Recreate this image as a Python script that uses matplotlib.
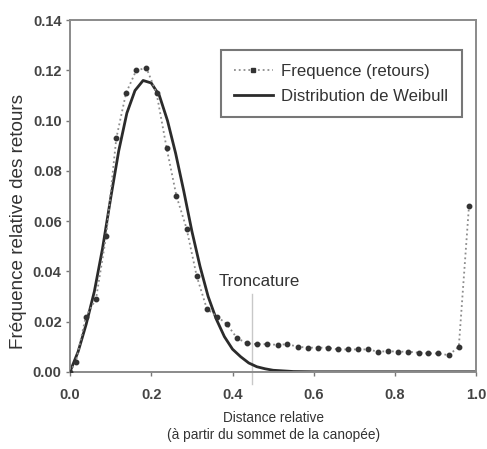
import matplotlib
matplotlib.use("Agg")
import matplotlib.pyplot as plt
from matplotlib.lines import Line2D

plt.rcParams['font.family'] = ['Liberation Sans', 'DejaVu Sans']

# relative height bins (from canopy top) and return frequencies
dist_obs = [0.0, 0.0145, 0.039, 0.064, 0.089, 0.114, 0.138, 0.163, 0.188, 0.213,
            0.238, 0.262, 0.287, 0.312, 0.337, 0.362, 0.386, 0.411, 0.436, 0.461,
            0.486, 0.511, 0.535, 0.560, 0.585, 0.610, 0.634, 0.659, 0.684, 0.709,
            0.734, 0.758, 0.783, 0.808, 0.833, 0.858, 0.882, 0.907, 0.932, 0.957,
            0.982]
freq_obs = [0.0, 0.004, 0.022, 0.029, 0.054, 0.093, 0.111, 0.120, 0.121, 0.111,
            0.089, 0.070, 0.057, 0.038, 0.025, 0.022, 0.019, 0.0134, 0.0113, 0.011,
            0.011, 0.0107, 0.0110, 0.0100, 0.0096, 0.0096, 0.0096, 0.0089, 0.0089, 0.0089,
            0.0089, 0.0080, 0.0082, 0.0080, 0.0080, 0.0076, 0.0073, 0.0073, 0.0066, 0.0100,
            0.066]

# fitted Weibull curve
dist_fit = [0.00, 0.02, 0.04, 0.06, 0.08, 0.10, 0.12, 0.14, 0.16, 0.18, 0.20,
            0.22, 0.24, 0.26, 0.28, 0.30, 0.32, 0.34, 0.36, 0.38, 0.40, 0.42,
            0.44, 0.46, 0.48, 0.50, 0.55, 0.60, 0.70, 0.80, 0.90, 1.00]
freq_fit = [0.0, 0.008, 0.019, 0.032, 0.049, 0.069, 0.088, 0.103, 0.112, 0.116, 0.115,
            0.110, 0.100, 0.087, 0.072, 0.056, 0.042, 0.030, 0.021, 0.014, 0.009, 0.006,
            0.0035, 0.002, 0.0012, 0.0006, 0.0001, 0.0, 0.0, 0.0, 0.0, 0.0]

cutoff = 0.449

fig = plt.figure(figsize=(4.87, 4.49), dpi=100)
ax = fig.add_axes([0.1437, 0.172, 0.8343, 0.783])

ax.plot(dist_obs, freq_obs, linestyle=':', color='#8c8c8c', lw=1.3,
        marker='o', markersize=3.2, markerfacecolor='#333333',
        markeredgecolor='#333333', zorder=3)
ax.plot(dist_fit, freq_fit, color='#2b2b2b', lw=2.0, zorder=2)

ax.plot([cutoff, cutoff], [-0.005, 0.031], color='#c8c8c8', lw=1.0,
        clip_on=False, zorder=1)
ax.text(0.366, 0.036, 'Troncature', fontsize=12.2, color='#333333',
        va='center', ha='left')

ax.set_xlim(0, 1.0)
ax.set_ylim(0, 0.14)
ax.set_xticks([0.0, 0.2, 0.4, 0.6, 0.8, 1.0])
ax.set_yticks([0.0, 0.02, 0.04, 0.06, 0.08, 0.10, 0.12, 0.14])
ax.xaxis.set_major_formatter(plt.FormatStrFormatter('%.1f'))
ax.yaxis.set_major_formatter(plt.FormatStrFormatter('%.2f'))
ax.tick_params(axis='both', direction='out', length=3, width=1,
               color='#777777', labelsize=10.5, labelcolor='#444444')
ax.tick_params(axis='x', pad=9)
ax.tick_params(axis='y', pad=3)
for lab in ax.get_xticklabels() + ax.get_yticklabels():
    lab.set_fontweight('bold')

for sp in ax.spines.values():
    sp.set_color('#8a8a8a')
    sp.set_linewidth(1.4)

ax.set_xlabel('Distance relative\n(à partir du sommet de la canopée)',
              fontsize=9.8, color='#333333', labelpad=6, linespacing=1.3)
ax.set_ylabel('Fréquence relative des retours', fontsize=13.6, color='#333333')
ax.yaxis.set_label_coords(-0.105, 0.428)

# legend handles: dotted line with a square marker, solid line for the fit
handles = [
    Line2D([], [], linestyle=':', color='#8c8c8c', lw=1.3, marker='s',
           markersize=3.5, markerfacecolor='#333333', markeredgecolor='#333333'),
    Line2D([], [], color='#2b2b2b', lw=2.0),
]
labels = ['Frequence (retours)', 'Distribution de Weibull']
leg = ax.legend(handles, labels, loc='upper left', bbox_to_anchor=(0.371, 0.915),
                fontsize=12.1, frameon=True, fancybox=False,
                handlelength=2.3, handletextpad=0.5, borderpad=0.8,
                labelspacing=0.6, borderaxespad=0)
leg.get_frame().set_edgecolor('#555555')
leg.get_frame().set_linewidth(1.5)
for t in leg.get_texts():
    t.set_color('#333333')

fig.savefig('out.png', dpi=100)
